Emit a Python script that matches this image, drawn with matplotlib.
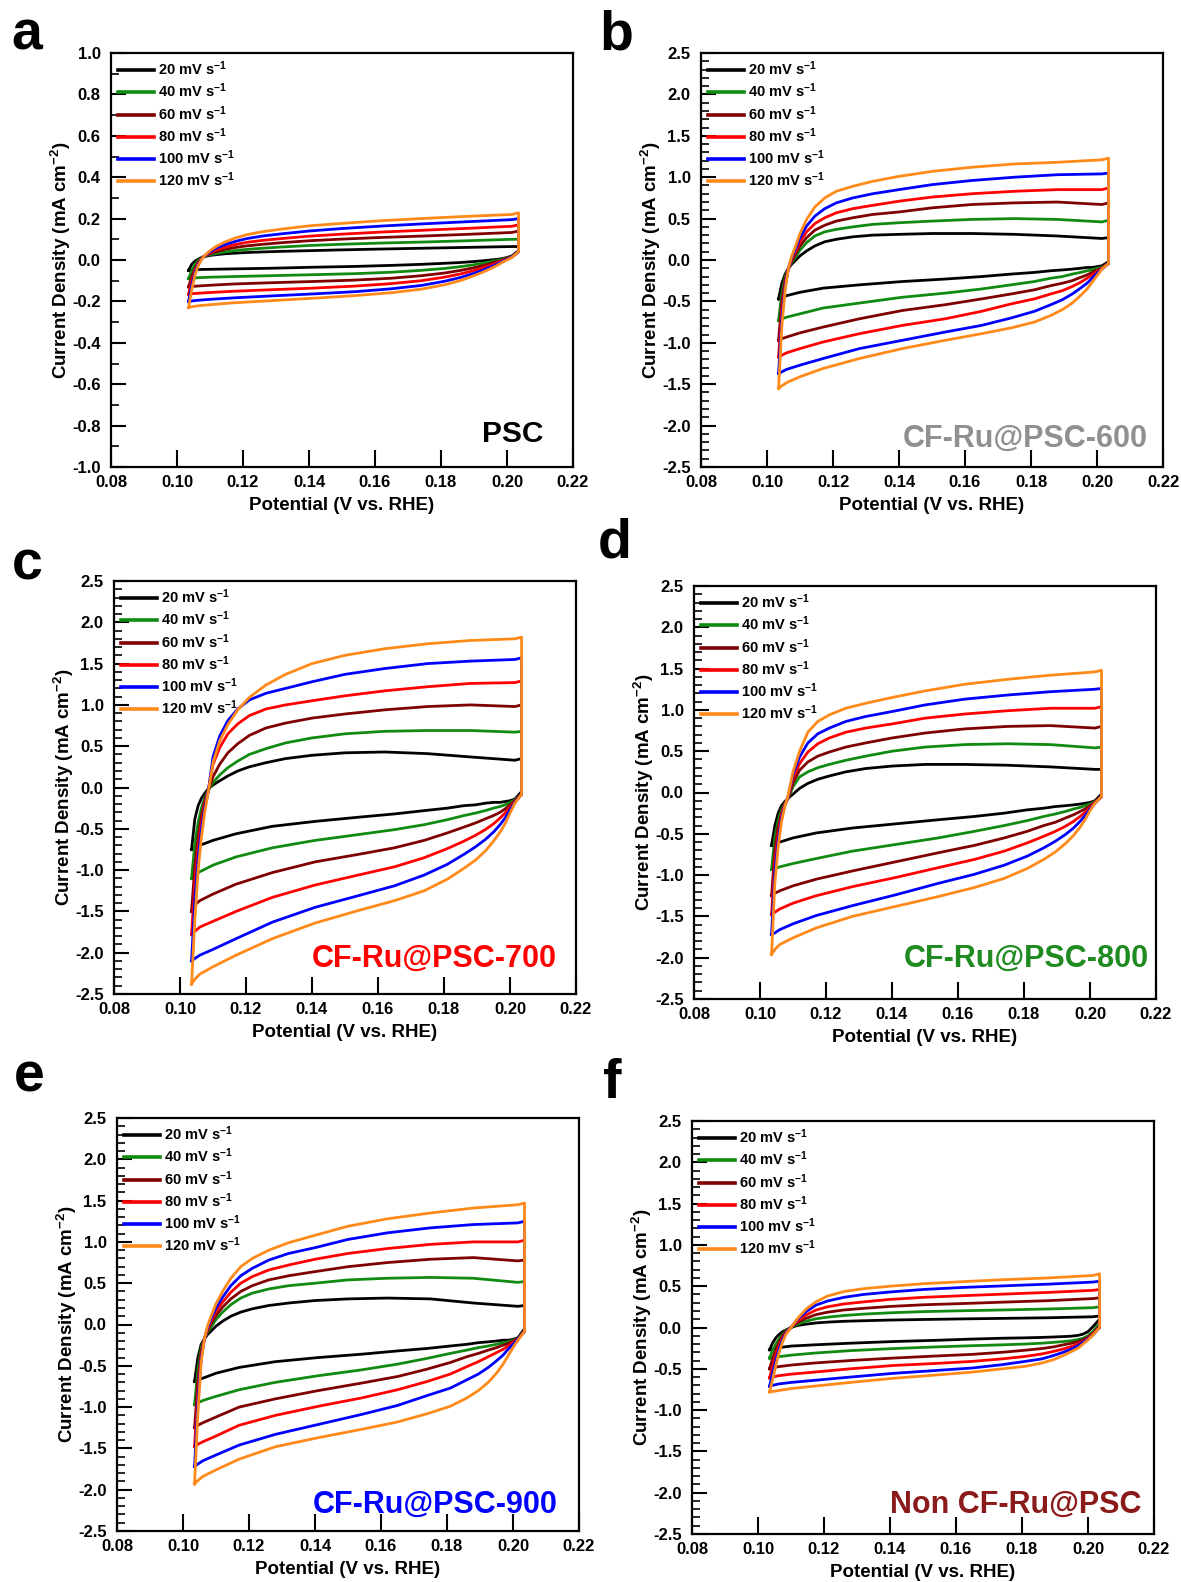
import matplotlib
matplotlib.use("Agg")
import matplotlib.pyplot as plt
from matplotlib.ticker import MultipleLocator, FuncFormatter

plt.rcParams['font.family'] = ['Liberation Sans', 'DejaVu Sans']
plt.rcParams['font.weight'] = 'bold'
plt.rcParams['axes.unicode_minus'] = False
plt.rcParams['mathtext.fontset'] = 'custom'
plt.rcParams['mathtext.rm'] = 'Liberation Sans:bold'
plt.rcParams['mathtext.bf'] = 'Liberation Sans:bold'
plt.rcParams['mathtext.default'] = 'bf'

# ---------------- data ----------------
SCAN_RATES = [20, 40, 60, 80, 100, 120]
COLORS = ['#000000', '#118a11', '#7f0000', '#ff0000', '#0000ff', '#ff8a1a']

# potential (V vs. RHE): forward (anodic) branch, then reverse (cathodic) branch
X_UP = [0.1035, 0.1045, 0.1055, 0.1065, 0.1075, 0.1085, 0.110, 0.112, 0.1145, 0.1175,
        0.121, 0.126, 0.132, 0.140, 0.150, 0.162, 0.175, 0.188, 0.2015, 0.2035]
X_DN = [0.2035, 0.2015, 0.200, 0.1985, 0.197, 0.195, 0.1925, 0.1895, 0.186, 0.181,
        0.174, 0.165, 0.154, 0.141, 0.128, 0.117, 0.110, 0.106, 0.1045, 0.1035]

# current density (mA cm-2); rows = 20, 40, 60, 80, 100, 120 mV s-1
# panel a: PSC
A_UP = [
    [-0.05, -0.02, -0.005, 0.005, 0.012, 0.017, 0.022, 0.026, 0.03, 0.033, 0.036, 0.039, 0.042, 0.045, 0.049, 0.053, 0.057, 0.061, 0.065, 0.065],
    [-0.09, -0.05, -0.02, 0.0, 0.012, 0.019, 0.026, 0.032, 0.039, 0.045, 0.051, 0.057, 0.063, 0.07, 0.076, 0.082, 0.087, 0.093, 0.10, 0.10],
    [-0.13, -0.08, -0.04, -0.01, 0.01, 0.02, 0.031, 0.041, 0.051, 0.06, 0.068, 0.076, 0.084, 0.093, 0.101, 0.109, 0.116, 0.124, 0.133, 0.14],
    [-0.165, -0.10, -0.05, -0.015, 0.008, 0.021, 0.036, 0.049, 0.062, 0.074, 0.085, 0.095, 0.104, 0.115, 0.125, 0.135, 0.144, 0.153, 0.163, 0.17],
    [-0.20, -0.12, -0.06, -0.02, 0.006, 0.022, 0.04, 0.058, 0.074, 0.089, 0.103, 0.116, 0.127, 0.14, 0.152, 0.164, 0.175, 0.185, 0.195, 0.20],
    [-0.23, -0.14, -0.07, -0.025, 0.004, 0.023, 0.045, 0.067, 0.087, 0.105, 0.122, 0.137, 0.15, 0.165, 0.177, 0.19, 0.201, 0.211, 0.22, 0.228],
]
A_DN = [
    [0.045, 0.02, 0.012, 0.007, 0.003, 0.0, -0.004, -0.008, -0.012, -0.016, -0.021, -0.026, -0.031, -0.035, -0.04, -0.043, -0.045, -0.046, -0.048, -0.05],
    [0.04, 0.018, 0.01, 0.004, -0.002, -0.008, -0.016, -0.024, -0.032, -0.041, -0.05, -0.059, -0.066, -0.071, -0.076, -0.08, -0.083, -0.086, -0.088, -0.09],
    [0.04, 0.016, 0.008, 0.0, -0.008, -0.017, -0.028, -0.039, -0.05, -0.063, -0.076, -0.088, -0.097, -0.104, -0.11, -0.116, -0.122, -0.126, -0.128, -0.13],
    [0.04, 0.015, 0.005, -0.004, -0.014, -0.026, -0.039, -0.053, -0.067, -0.083, -0.1, -0.114, -0.126, -0.136, -0.144, -0.151, -0.157, -0.161, -0.163, -0.165],
    [0.04, 0.014, 0.003, -0.008, -0.02, -0.034, -0.05, -0.067, -0.084, -0.103, -0.123, -0.139, -0.153, -0.164, -0.174, -0.183, -0.19, -0.195, -0.198, -0.20],
    [0.04, 0.012, 0.0, -0.012, -0.026, -0.042, -0.06, -0.079, -0.099, -0.12, -0.141, -0.158, -0.172, -0.185, -0.197, -0.207, -0.216, -0.222, -0.226, -0.23],
]

# panel b: CF-Ru@PSC-600
B_UP = [
    [-0.47, -0.28, -0.17, -0.10, -0.05, -0.01, 0.05, 0.11, 0.17, 0.22, 0.25, 0.28, 0.30, 0.31, 0.32, 0.32, 0.31, 0.29, 0.26, 0.27],
    [-0.73, -0.40, -0.20, -0.10, -0.03, 0.03, 0.12, 0.21, 0.29, 0.34, 0.37, 0.40, 0.43, 0.45, 0.47, 0.49, 0.50, 0.49, 0.46, 0.48],
    [-0.97, -0.50, -0.24, -0.10, -0.01, 0.06, 0.17, 0.27, 0.36, 0.42, 0.47, 0.51, 0.55, 0.58, 0.63, 0.67, 0.69, 0.70, 0.67, 0.69],
    [-1.17, -0.60, -0.28, -0.10, 0.01, 0.09, 0.22, 0.34, 0.44, 0.51, 0.57, 0.62, 0.66, 0.71, 0.76, 0.80, 0.83, 0.85, 0.85, 0.87],
    [-1.37, -0.70, -0.32, -0.10, 0.03, 0.12, 0.27, 0.41, 0.53, 0.62, 0.69, 0.75, 0.80, 0.85, 0.91, 0.96, 1.00, 1.03, 1.04, 1.05],
    [-1.55, -0.80, -0.36, -0.10, 0.05, 0.15, 0.32, 0.49, 0.64, 0.75, 0.83, 0.89, 0.95, 1.01, 1.07, 1.12, 1.16, 1.18, 1.21, 1.23],
]
B_DN = [
    [-0.02, -0.07, -0.08, -0.09, -0.09, -0.10, -0.11, -0.12, -0.13, -0.15, -0.17, -0.20, -0.23, -0.26, -0.30, -0.34, -0.39, -0.43, -0.45, -0.47],
    [-0.04, -0.09, -0.10, -0.12, -0.13, -0.15, -0.17, -0.20, -0.22, -0.26, -0.30, -0.35, -0.40, -0.45, -0.52, -0.58, -0.65, -0.69, -0.71, -0.73],
    [-0.04, -0.10, -0.12, -0.15, -0.18, -0.21, -0.25, -0.28, -0.31, -0.36, -0.41, -0.47, -0.54, -0.61, -0.71, -0.81, -0.88, -0.93, -0.95, -0.97],
    [-0.04, -0.10, -0.14, -0.18, -0.22, -0.27, -0.32, -0.37, -0.41, -0.47, -0.53, -0.62, -0.71, -0.79, -0.89, -0.99, -1.07, -1.12, -1.15, -1.17],
    [-0.04, -0.11, -0.16, -0.22, -0.28, -0.34, -0.41, -0.48, -0.54, -0.62, -0.70, -0.79, -0.87, -0.97, -1.07, -1.19, -1.27, -1.32, -1.35, -1.37],
    [-0.04, -0.11, -0.19, -0.27, -0.35, -0.43, -0.52, -0.60, -0.67, -0.75, -0.82, -0.89, -0.97, -1.07, -1.19, -1.31, -1.41, -1.48, -1.52, -1.55],
]

# panel c: CF-Ru@PSC-700
C_UP = [
    [-0.75, -0.38, -0.22, -0.13, -0.07, -0.02, 0.03, 0.08, 0.14, 0.20, 0.25, 0.30, 0.35, 0.39, 0.42, 0.43, 0.41, 0.37, 0.33, 0.35],
    [-1.10, -0.68, -0.42, -0.25, -0.12, -0.04, 0.06, 0.15, 0.24, 0.32, 0.40, 0.47, 0.54, 0.60, 0.65, 0.68, 0.69, 0.69, 0.67, 0.68],
    [-1.50, -0.95, -0.60, -0.35, -0.16, -0.05, 0.13, 0.28, 0.42, 0.53, 0.63, 0.72, 0.78, 0.84, 0.89, 0.94, 0.98, 1.00, 0.98, 1.00],
    [-1.78, -1.15, -0.72, -0.42, -0.20, -0.05, 0.28, 0.48, 0.65, 0.77, 0.87, 0.95, 1.00, 1.05, 1.11, 1.17, 1.22, 1.26, 1.27, 1.29],
    [-2.10, -1.35, -0.85, -0.50, -0.25, -0.06, 0.37, 0.62, 0.81, 0.95, 1.06, 1.14, 1.20, 1.28, 1.37, 1.44, 1.50, 1.53, 1.55, 1.57],
    [-2.38, -1.60, -1.00, -0.60, -0.30, -0.07, 0.30, 0.56, 0.76, 0.94, 1.09, 1.24, 1.37, 1.50, 1.60, 1.68, 1.74, 1.78, 1.80, 1.82],
]
C_DN = [
    [-0.05, -0.14, -0.16, -0.17, -0.18, -0.18, -0.19, -0.21, -0.22, -0.25, -0.28, -0.32, -0.36, -0.41, -0.47, -0.56, -0.64, -0.70, -0.72, -0.75],
    [-0.08, -0.15, -0.18, -0.21, -0.23, -0.25, -0.28, -0.31, -0.34, -0.39, -0.45, -0.51, -0.57, -0.64, -0.73, -0.84, -0.94, -1.02, -1.06, -1.10],
    [-0.08, -0.16, -0.21, -0.26, -0.30, -0.34, -0.38, -0.43, -0.48, -0.55, -0.64, -0.73, -0.81, -0.90, -1.03, -1.17, -1.29, -1.37, -1.42, -1.50],
    [-0.08, -0.17, -0.24, -0.31, -0.37, -0.44, -0.51, -0.58, -0.65, -0.74, -0.85, -0.96, -1.06, -1.18, -1.33, -1.50, -1.62, -1.69, -1.74, -1.78],
    [-0.08, -0.18, -0.27, -0.37, -0.45, -0.54, -0.63, -0.72, -0.81, -0.93, -1.06, -1.19, -1.31, -1.45, -1.63, -1.83, -1.96, -2.03, -2.07, -2.10],
    [-0.08, -0.19, -0.31, -0.44, -0.54, -0.65, -0.77, -0.88, -0.98, -1.11, -1.25, -1.37, -1.49, -1.64, -1.83, -2.03, -2.17, -2.26, -2.32, -2.38],
]

# panel d: CF-Ru@PSC-800
D_UP = [
    [-0.64, -0.40, -0.25, -0.16, -0.11, -0.07, -0.02, 0.05, 0.11, 0.16, 0.20, 0.25, 0.29, 0.32, 0.34, 0.34, 0.33, 0.31, 0.28, 0.28],
    [-0.93, -0.55, -0.34, -0.21, -0.13, -0.07, 0.07, 0.19, 0.25, 0.30, 0.34, 0.39, 0.44, 0.50, 0.55, 0.58, 0.59, 0.58, 0.54, 0.55],
    [-1.25, -0.70, -0.42, -0.25, -0.14, -0.07, 0.12, 0.27, 0.37, 0.44, 0.49, 0.55, 0.60, 0.66, 0.72, 0.77, 0.80, 0.81, 0.78, 0.80],
    [-1.48, -0.82, -0.50, -0.28, -0.15, -0.06, 0.17, 0.35, 0.49, 0.59, 0.66, 0.73, 0.78, 0.83, 0.90, 0.95, 0.99, 1.02, 1.02, 1.04],
    [-1.72, -0.95, -0.58, -0.32, -0.16, -0.05, 0.22, 0.43, 0.60, 0.71, 0.78, 0.86, 0.92, 0.98, 1.06, 1.13, 1.18, 1.22, 1.25, 1.26],
    [-1.96, -1.10, -0.66, -0.36, -0.17, -0.04, 0.25, 0.50, 0.73, 0.86, 0.94, 1.02, 1.08, 1.15, 1.23, 1.31, 1.37, 1.42, 1.46, 1.48],
]
D_DN = [
    [-0.02, -0.10, -0.12, -0.13, -0.14, -0.15, -0.16, -0.17, -0.19, -0.21, -0.25, -0.29, -0.33, -0.38, -0.43, -0.49, -0.55, -0.60, -0.62, -0.64],
    [-0.05, -0.11, -0.14, -0.16, -0.18, -0.20, -0.23, -0.26, -0.29, -0.34, -0.40, -0.47, -0.55, -0.63, -0.71, -0.80, -0.86, -0.90, -0.92, -0.93],
    [-0.05, -0.12, -0.16, -0.20, -0.23, -0.27, -0.31, -0.36, -0.40, -0.47, -0.55, -0.64, -0.73, -0.84, -0.95, -1.05, -1.13, -1.19, -1.22, -1.25],
    [-0.05, -0.12, -0.18, -0.24, -0.29, -0.35, -0.41, -0.47, -0.53, -0.61, -0.71, -0.81, -0.91, -1.03, -1.14, -1.25, -1.34, -1.41, -1.45, -1.48],
    [-0.05, -0.13, -0.20, -0.28, -0.35, -0.43, -0.51, -0.59, -0.67, -0.77, -0.88, -0.99, -1.10, -1.24, -1.37, -1.49, -1.59, -1.66, -1.70, -1.72],
    [-0.05, -0.13, -0.22, -0.33, -0.42, -0.52, -0.62, -0.72, -0.81, -0.92, -1.04, -1.15, -1.26, -1.38, -1.50, -1.64, -1.76, -1.84, -1.90, -1.96],
]

# panel e: CF-Ru@PSC-900
E_UP = [
    [-0.69, -0.40, -0.24, -0.17, -0.12, -0.08, -0.02, 0.04, 0.10, 0.15, 0.19, 0.23, 0.26, 0.29, 0.31, 0.32, 0.31, 0.26, 0.22, 0.23],
    [-0.97, -0.55, -0.28, -0.17, -0.09, -0.03, 0.06, 0.15, 0.24, 0.32, 0.38, 0.43, 0.47, 0.50, 0.54, 0.56, 0.57, 0.56, 0.51, 0.52],
    [-1.25, -0.70, -0.33, -0.17, -0.07, 0.01, 0.11, 0.21, 0.31, 0.40, 0.47, 0.54, 0.59, 0.64, 0.70, 0.75, 0.79, 0.81, 0.77, 0.78],
    [-1.48, -0.82, -0.38, -0.17, -0.05, 0.04, 0.16, 0.27, 0.39, 0.50, 0.58, 0.66, 0.72, 0.79, 0.86, 0.92, 0.97, 1.00, 1.00, 1.02],
    [-1.72, -0.95, -0.42, -0.17, -0.03, 0.07, 0.20, 0.33, 0.47, 0.59, 0.68, 0.78, 0.86, 0.93, 1.03, 1.11, 1.17, 1.21, 1.23, 1.25],
    [-1.93, -1.08, -0.46, -0.17, -0.01, 0.10, 0.25, 0.40, 0.56, 0.70, 0.80, 0.90, 0.99, 1.08, 1.19, 1.28, 1.35, 1.41, 1.45, 1.47],
]
E_DN = [
    [-0.05, -0.16, -0.18, -0.19, -0.19, -0.20, -0.21, -0.22, -0.24, -0.26, -0.29, -0.32, -0.36, -0.40, -0.45, -0.52, -0.59, -0.65, -0.67, -0.69],
    [-0.08, -0.17, -0.19, -0.21, -0.22, -0.24, -0.26, -0.28, -0.31, -0.35, -0.41, -0.48, -0.55, -0.62, -0.70, -0.79, -0.87, -0.92, -0.95, -0.97],
    [-0.08, -0.17, -0.20, -0.23, -0.25, -0.28, -0.31, -0.35, -0.39, -0.46, -0.54, -0.63, -0.71, -0.80, -0.90, -1.00, -1.12, -1.19, -1.22, -1.25],
    [-0.08, -0.18, -0.22, -0.26, -0.30, -0.34, -0.39, -0.45, -0.51, -0.60, -0.69, -0.79, -0.89, -0.99, -1.10, -1.22, -1.35, -1.42, -1.45, -1.48],
    [-0.08, -0.18, -0.24, -0.30, -0.37, -0.44, -0.52, -0.60, -0.67, -0.77, -0.86, -0.98, -1.09, -1.21, -1.33, -1.46, -1.58, -1.65, -1.69, -1.72],
    [-0.08, -0.19, -0.28, -0.38, -0.48, -0.59, -0.70, -0.80, -0.89, -0.99, -1.08, -1.18, -1.27, -1.37, -1.48, -1.63, -1.76, -1.84, -1.89, -1.93],
]

# panel f: Non CF-Ru@PSC
F_UP = [
    [-0.27, -0.18, -0.12, -0.08, -0.05, -0.03, 0.0, 0.025, 0.04, 0.055, 0.065, 0.075, 0.082, 0.09, 0.097, 0.104, 0.111, 0.118, 0.13, 0.14],
    [-0.37, -0.27, -0.19, -0.13, -0.08, -0.04, 0.0, 0.04, 0.075, 0.105, 0.125, 0.145, 0.162, 0.178, 0.192, 0.203, 0.213, 0.224, 0.24, 0.25],
    [-0.50, -0.37, -0.26, -0.17, -0.10, -0.05, 0.0, 0.06, 0.11, 0.155, 0.185, 0.212, 0.232, 0.255, 0.275, 0.29, 0.308, 0.325, 0.35, 0.36],
    [-0.61, -0.46, -0.32, -0.21, -0.12, -0.06, 0.0, 0.08, 0.15, 0.21, 0.25, 0.285, 0.31, 0.34, 0.365, 0.385, 0.405, 0.425, 0.45, 0.46],
    [-0.71, -0.54, -0.38, -0.25, -0.14, -0.07, 0.0, 0.10, 0.19, 0.27, 0.32, 0.365, 0.40, 0.43, 0.46, 0.485, 0.505, 0.525, 0.55, 0.56],
    [-0.78, -0.62, -0.44, -0.29, -0.17, -0.08, 0.0, 0.11, 0.22, 0.31, 0.38, 0.435, 0.47, 0.50, 0.53, 0.555, 0.58, 0.60, 0.63, 0.65],
]
F_DN = [
    [0.10, 0.01, -0.05, -0.08, -0.095, -0.105, -0.11, -0.115, -0.12, -0.125, -0.13, -0.14, -0.155, -0.17, -0.19, -0.21, -0.225, -0.245, -0.26, -0.27],
    [0.05, -0.05, -0.10, -0.13, -0.145, -0.16, -0.17, -0.18, -0.19, -0.20, -0.21, -0.22, -0.235, -0.255, -0.28, -0.31, -0.335, -0.355, -0.365, -0.37],
    [0.02, -0.07, -0.12, -0.15, -0.17, -0.19, -0.21, -0.235, -0.255, -0.275, -0.30, -0.325, -0.345, -0.37, -0.40, -0.43, -0.455, -0.475, -0.49, -0.50],
    [0.0, -0.08, -0.13, -0.17, -0.20, -0.23, -0.26, -0.29, -0.32, -0.35, -0.38, -0.41, -0.435, -0.46, -0.50, -0.54, -0.565, -0.585, -0.60, -0.61],
    [0.0, -0.09, -0.14, -0.18, -0.22, -0.26, -0.30, -0.34, -0.38, -0.41, -0.45, -0.49, -0.52, -0.555, -0.60, -0.64, -0.665, -0.685, -0.70, -0.71],
    [0.0, -0.09, -0.15, -0.20, -0.25, -0.29, -0.34, -0.39, -0.43, -0.47, -0.50, -0.54, -0.575, -0.615, -0.665, -0.71, -0.74, -0.765, -0.775, -0.78],
]

PANEL_LETTERS = ['a', 'b', 'c', 'd', 'e', 'f']
SAMPLE_NAMES = ['PSC', 'CF-Ru@PSC-600', 'CF-Ru@PSC-700', 'CF-Ru@PSC-800', 'CF-Ru@PSC-900', 'Non CF-Ru@PSC']
SAMPLE_COLORS = ['#000000', '#909090', '#ff0000', '#1f8a1f', '#0000ff', '#8b1a1a']
UP_DATA = [A_UP, B_UP, C_UP, D_UP, E_UP, F_UP]
DN_DATA = [A_DN, B_DN, C_DN, D_DN, E_DN, F_DN]
Y_LIMS = [(-1.0, 1.0), (-2.5, 2.5), (-2.5, 2.5), (-2.5, 2.5), (-2.5, 2.5), (-2.5, 2.5)]
Y_MAJOR = [0.2, 0.5, 0.5, 0.5, 0.5, 0.5]
X_TICKS = [0.08, 0.10, 0.12, 0.14, 0.16, 0.18, 0.20, 0.22]

# ---------------- layout ----------------
W, H = 1181, 1582
fig = plt.figure(figsize=(W / 100, H / 100), dpi=100)

# axes boxes in pixels: left, top, right, bottom
BOXES = [(111, 53, 573, 467), (701, 53, 1163, 467),
         (114, 581, 576, 994), (694, 586, 1156, 999),
         (117, 1118, 579, 1531), (692, 1121, 1154, 1534)]
LETTER_POS = [(11, 50), (599, 50), (12, 580), (598, 558), (14, 1091), (603, 1098)]
NAME_POS = [(0.935, 0.06), (0.966, 0.048), (0.958, 0.065), (0.985, 0.077), (0.953, 0.044), (0.973, 0.051)]

for i in range(6):
    l, t, r, b = BOXES[i]
    ax = fig.add_axes([l / W, 1 - b / H, (r - l) / W, (b - t) / H])
    for k in range(6):
        xs = X_UP + X_DN
        ys = UP_DATA[i][k] + DN_DATA[i][k]
        ax.plot(xs, ys, color=COLORS[k], lw=2.0, solid_joinstyle='round',
                label=f'{SCAN_RATES[k]} mV s$^{{-1}}$')
    ax.set_xlim(0.08, 0.22)
    ax.set_ylim(*Y_LIMS[i])
    ax.set_xticks(X_TICKS)
    ax.set_xticklabels([f'{v:.2f}' for v in X_TICKS])
    ax.yaxis.set_major_locator(MultipleLocator(Y_MAJOR[i]))
    ax.yaxis.set_minor_locator(MultipleLocator(0.1))
    ax.yaxis.set_major_formatter(FuncFormatter(lambda v, p: f'{v:.1f}'))
    ax.tick_params(axis='both', which='major', direction='in', width=1.5,
                   labelsize=12, top=False, right=False)
    ax.tick_params(axis='y', which='major', length=11, pad=7.5)
    ax.tick_params(axis='y', which='minor', direction='in', length=5.5, width=1.2, right=False)
    ax.tick_params(axis='x', which='major', length=12, pad=6)
    for lab in ax.get_xticklabels() + ax.get_yticklabels():
        lab.set_fontweight('bold')
    for sp in ax.spines.values():
        sp.set_linewidth(1.6)
    ax.set_xlabel('Potential (V vs. RHE)', fontsize=13.5, fontweight='bold', labelpad=5)
    ax.set_ylabel('Current Density (mA cm$^{-2}$)', fontsize=13.5, fontweight='bold', labelpad=-1)
    leg = ax.legend(loc='upper left', frameon=False, handlelength=2.5, handletextpad=0.25,
                    labelspacing=0.25, borderaxespad=0.25, borderpad=0.2,
                    prop={'weight': 'bold', 'size': 10.5})
    for ln in leg.get_lines():
        ln.set_linewidth(2.6)
    nx, ny = NAME_POS[i]
    ax.text(nx, ny, SAMPLE_NAMES[i], transform=ax.transAxes, ha='right', va='baseline',
            fontsize=22 if i > 0 else 21.5, fontweight='bold', color=SAMPLE_COLORS[i])
    lx, ly = LETTER_POS[i]
    fig.text(lx / W, 1 - ly / H, PANEL_LETTERS[i], fontsize=40, fontweight='bold',
             ha='left', va='baseline')

fig.savefig('out.png', dpi=100)
